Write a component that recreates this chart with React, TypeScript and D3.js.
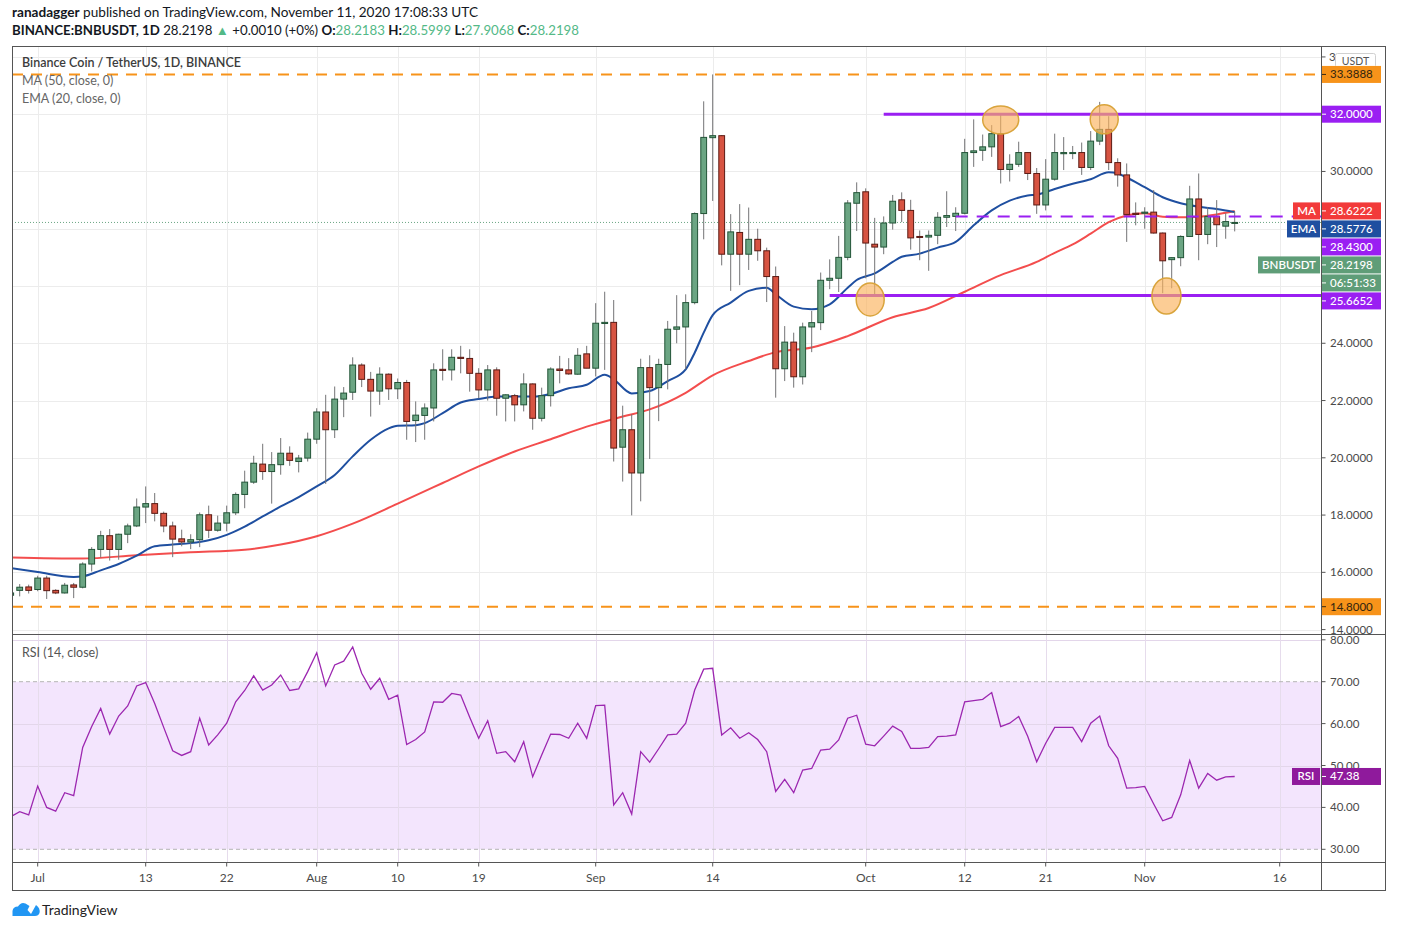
import * as d3 from "d3"

// ---- data ----
const firstDay = Date.UTC(2020, 5, 28)
const lastDay = Date.UTC(2020, 10, 12)
const days = d3.utcDay.range(new Date(firstDay), new Date(lastDay))

// [open, high, low, close] per day, Jun 28 .. Nov 11
const ohlc: [number, number, number, number][] = [
  [15.2, 15.3, 15.1, 15.28], [15.37, 15.59, 15.16, 15.48], [15.49, 15.57, 15.26, 15.37],
  // Jul
  [15.4, 15.88, 15.34, 15.8], [15.8, 15.88, 15.07, 15.36], [15.37, 15.41, 15.24, 15.28],
  [15.28, 15.63, 15.26, 15.55], [15.56, 15.63, 15.1, 15.48], [15.48, 16.35, 15.44, 16.29],
  [16.29, 16.88, 16.03, 16.8], [16.8, 17.45, 16.52, 17.28], [17.28, 17.51, 16.41, 16.8],
  [16.8, 17.35, 16.44, 17.33], [17.33, 17.7, 17.02, 17.62], [17.62, 18.58, 17.58, 18.28],
  [18.28, 19.0, 17.72, 18.4], [18.4, 18.77, 17.78, 18.06], [18.06, 18.12, 17.4, 17.62],
  [17.62, 17.77, 16.53, 17.16], [17.17, 17.49, 16.91, 17.06], [17.06, 17.33, 16.81, 17.14],
  [17.14, 18.09, 16.88, 18.01], [18.01, 18.33, 17.2, 17.47], [17.47, 17.98, 17.42, 17.72],
  [17.72, 18.33, 17.43, 18.08], [18.08, 18.79, 18.0, 18.72], [18.72, 19.55, 18.24, 19.15],
  [19.15, 20.07, 19.09, 19.81], [19.78, 20.49, 19.23, 19.52], [19.52, 20.2, 18.4, 19.76],
  [19.76, 20.69, 19.41, 20.16], [20.16, 20.4, 19.72, 19.91], [19.87, 20.1, 19.49, 19.99],
  [19.99, 20.88, 19.87, 20.65],
  // Aug
  [20.65, 21.73, 20.49, 21.6], [21.6, 22.2, 19.09, 20.98], [20.98, 22.49, 20.69, 22.05],
  [22.05, 22.47, 21.42, 22.26], [22.29, 23.51, 22.02, 23.24], [23.24, 23.3, 22.47, 22.74],
  [22.74, 23.0, 21.44, 22.33], [22.33, 23.16, 21.85, 22.92], [22.92, 22.95, 22.02, 22.41],
  [22.41, 22.77, 22.05, 22.63], [22.63, 22.72, 20.63, 21.27], [21.3, 21.97, 20.55, 21.49],
  [21.48, 21.9, 20.63, 21.74], [21.74, 23.3, 21.27, 23.07], [23.09, 23.79, 22.7, 23.05],
  [23.07, 23.79, 22.7, 23.51], [23.51, 23.91, 22.95, 23.47], [23.47, 23.79, 22.31, 22.95],
  [22.95, 23.13, 22.08, 22.37], [22.37, 23.24, 22.0, 23.07], [23.07, 23.16, 21.47, 22.08],
  [22.08, 22.22, 21.27, 22.2], [22.17, 22.23, 21.27, 21.85], [21.85, 22.95, 21.62, 22.58],
  [22.58, 22.6, 20.98, 21.38], [21.38, 22.45, 21.27, 22.17], [22.17, 23.16, 21.79, 23.1],
  [23.1, 23.56, 22.6, 23.05], [23.07, 23.48, 22.9, 22.93], [22.92, 23.83, 22.9, 23.58],
  [23.63, 23.91, 23.13, 23.13],
  // Sep
  [23.13, 25.4, 22.84, 24.7], [24.69, 25.8, 23.07, 24.73], [24.73, 25.51, 19.87, 20.34],
  [20.37, 21.82, 19.17, 20.98], [20.98, 21.52, 17.99, 19.47], [19.47, 23.46, 18.48, 23.15],
  [23.15, 23.58, 19.96, 22.45], [22.45, 23.46, 21.28, 23.26], [23.26, 24.78, 22.39, 24.49],
  [24.49, 25.68, 24.0, 24.57], [24.57, 25.71, 23.09, 25.42], [25.42, 28.57, 25.36, 28.53],
  [28.53, 32.45, 27.63, 31.19], [31.18, 33.3888, 28.97, 31.25], [31.25, 31.27, 26.72, 27.11],
  [27.11, 28.51, 25.83, 27.89], [27.87, 28.86, 26.03, 27.11], [27.11, 28.74, 26.56, 27.63],
  [27.63, 28.0, 26.88, 27.23], [27.23, 27.34, 25.44, 26.33], [26.33, 26.68, 22.1, 23.11],
  [23.11, 24.6, 22.68, 24.04], [24.04, 24.37, 22.45, 22.83], [22.83, 24.72, 22.56, 24.57],
  [24.57, 25.13, 23.69, 24.72], [24.72, 26.47, 24.46, 26.2], [26.2, 26.93, 25.89, 26.27],
  [26.27, 27.75, 25.79, 27.0], [27.0, 29.0, 26.9, 28.9], [28.89, 29.62, 27.92, 29.26],
  // Oct
  [29.29, 29.41, 26.27, 27.5], [27.46, 28.38, 25.69, 27.36], [27.36, 28.43, 27.11, 28.2],
  [28.2, 29.18, 27.97, 28.96], [29.01, 29.27, 28.23, 28.64], [28.64, 29.01, 27.27, 27.68],
  [27.73, 27.94, 26.9, 27.71], [27.71, 27.94, 26.53, 27.77], [27.77, 28.58, 27.46, 28.4],
  [28.4, 29.31, 28.06, 28.46], [28.43, 28.75, 27.92, 28.54], [28.54, 31.14, 28.5, 30.66],
  [30.66, 31.82, 30.16, 30.72], [30.74, 31.29, 30.37, 30.86], [30.86, 31.62, 30.51, 31.32],
  [31.32, 31.99, 29.58, 30.07], [30.07, 30.6, 29.65, 30.25], [30.25, 31.04, 30.16, 30.66],
  [30.66, 30.68, 29.7, 29.93], [29.93, 30.12, 28.52, 28.83], [28.83, 30.43, 28.64, 29.73],
  [29.73, 31.32, 29.68, 30.66], [30.62, 31.2, 30.05, 30.66], [30.64, 30.89, 30.43, 30.66],
  [30.66, 31.01, 29.88, 30.14], [30.14, 31.41, 30.05, 31.06], [31.06, 32.43, 30.92, 31.47],
  [31.47, 31.93, 30.05, 30.31], [30.31, 30.46, 29.47, 29.88], [29.88, 30.28, 27.54, 28.5],
  [28.54, 28.92, 28.12, 28.5],
  // Nov
  [28.54, 28.75, 28.0, 28.58], [28.58, 29.35, 27.83, 27.85], [27.85, 27.87, 25.75, 26.88],
  [26.92, 27.0, 25.92, 26.99], [26.99, 27.77, 26.69, 27.73], [27.73, 29.5, 27.71, 29.04],
  [29.04, 29.93, 26.9, 27.8], [27.8, 28.75, 27.46, 28.43], [28.43, 29.0, 27.36, 28.14],
  [28.09, 28.54, 27.65, 28.25], [28.2183, 28.5999, 27.9068, 28.2198],
]

// RSI (14, close), one value per day, Jun 28 .. Nov 11
const rsi = [
  37.8, 39.0, 38.2,
  45.1, 40.0, 39.1, 43.5, 42.8, 54.3, 59.3, 63.6, 57.5, 61.8, 64.2, 69.0, 69.8, 64.8, 59.1, 53.5,
  52.4, 53.3, 61.3, 54.9, 57.3, 60.1, 65.2, 67.9, 71.4, 68.0, 69.2, 71.6, 67.9, 68.3, 72.4,
  76.9, 69.0, 74.0, 74.9, 78.3, 72.0, 68.2, 70.8, 65.8, 66.8, 55.0, 56.2, 58.0, 65.2, 65.1, 67.2,
  66.8, 61.5, 56.5, 60.7, 52.9, 53.3, 50.9, 55.7, 47.3, 52.5, 57.5, 57.4, 56.5, 60.1, 56.5,
  64.3, 64.4, 40.6, 43.5, 38.4, 53.3, 50.8, 54.0, 57.3, 57.5, 60.1, 68.0, 73.0, 73.2, 57.3,
  59.0, 56.5, 57.8, 56.2, 53.3, 43.8, 46.7, 43.5, 48.9, 49.3, 53.7, 53.9, 56.1, 61.3, 62.0,
  55.1, 54.7, 57.0, 59.4, 58.1, 54.1, 54.1, 54.3, 56.9, 57.0, 57.3, 65.2, 65.5, 65.8, 67.4,
  59.3, 60.1, 61.7, 57.0, 50.9, 55.3, 59.1, 59.1, 59.1, 55.7, 60.1, 61.8, 54.7, 51.7, 44.6, 44.7,
  45.0, 40.8, 36.8, 37.6, 43.0, 51.2, 44.6, 48.1, 46.5, 47.3, 47.38,
]

// EMA (20)
const emaPoints: [string, number][] = [
  ["2020-06-28", 16.15], ["2020-07-01", 16.01], ["2020-07-05", 15.84], ["2020-07-06", 15.86],
  ["2020-07-08", 16.07], ["2020-07-10", 16.29], ["2020-07-12", 16.58], ["2020-07-14", 16.91],
  ["2020-07-16", 16.97], ["2020-07-18", 17.02], ["2020-07-20", 17.12], ["2020-07-22", 17.31],
  ["2020-07-24", 17.6], ["2020-07-26", 17.95], ["2020-07-28", 18.3], ["2020-07-30", 18.63],
  ["2020-08-01", 19.0], ["2020-08-03", 19.4], ["2020-08-05", 20.05], ["2020-08-07", 20.63],
  ["2020-08-09", 21.03], ["2020-08-10", 21.12], ["2020-08-12", 21.14], ["2020-08-13", 21.21],
  ["2020-08-15", 21.56], ["2020-08-17", 21.93], ["2020-08-19", 22.05], ["2020-08-21", 22.14],
  ["2020-08-23", 22.14], ["2020-08-25", 22.14], ["2020-08-27", 22.23], ["2020-08-29", 22.43],
  ["2020-08-31", 22.55], ["2020-09-02", 22.9], ["2020-09-03", 22.74], ["2020-09-05", 22.25],
  ["2020-09-07", 22.33], ["2020-09-09", 22.68], ["2020-09-11", 23.09], ["2020-09-12", 23.67],
  ["2020-09-13", 24.37], ["2020-09-14", 24.98], ["2020-09-16", 25.42], ["2020-09-18", 25.83],
  ["2020-09-20", 25.94], ["2020-09-21", 25.71], ["2020-09-23", 25.28], ["2020-09-25", 25.19],
  ["2020-09-27", 25.36], ["2020-09-29", 25.94], ["2020-09-30", 26.21], ["2020-10-02", 26.44],
  ["2020-10-04", 26.84], ["2020-10-05", 27.02], ["2020-10-07", 27.13], ["2020-10-09", 27.34],
  ["2020-10-11", 27.54], ["2020-10-13", 28.12], ["2020-10-15", 28.64], ["2020-10-17", 28.98],
  ["2020-10-19", 29.16], ["2020-10-20", 29.19], ["2020-10-22", 29.39], ["2020-10-24", 29.57],
  ["2020-10-26", 29.73], ["2020-10-28", 29.97], ["2020-10-29", 29.93], ["2020-10-30", 29.79],
  ["2020-11-01", 29.45], ["2020-11-03", 29.1], ["2020-11-05", 28.89], ["2020-11-07", 28.77],
  ["2020-11-09", 28.69], ["2020-11-11", 28.58],
]

// MA (50)
const maPoints: [string, number][] = [
  ["2020-06-28", 16.52], ["2020-07-06", 16.48], ["2020-07-12", 16.6], ["2020-07-18", 16.7],
  ["2020-07-24", 16.79], ["2020-07-28", 16.97], ["2020-08-01", 17.26], ["2020-08-05", 17.7],
  ["2020-08-10", 18.4], ["2020-08-15", 19.12], ["2020-08-19", 19.7], ["2020-08-23", 20.22],
  ["2020-08-27", 20.65], ["2020-08-31", 21.09], ["2020-09-04", 21.44], ["2020-09-07", 21.69],
  ["2020-09-11", 22.27], ["2020-09-14", 22.88], ["2020-09-18", 23.38], ["2020-09-21", 23.69],
  ["2020-09-25", 23.85], ["2020-09-29", 24.25], ["2020-10-04", 24.91], ["2020-10-08", 25.23],
  ["2020-10-12", 25.8], ["2020-10-16", 26.38], ["2020-10-20", 26.84], ["2020-10-22", 27.16],
  ["2020-10-24", 27.45], ["2020-10-26", 27.83], ["2020-10-28", 28.23], ["2020-10-30", 28.46],
  ["2020-11-01", 28.54], ["2020-11-03", 28.42], ["2020-11-05", 28.4], ["2020-11-07", 28.42],
  ["2020-11-09", 28.5], ["2020-11-11", 28.62],
]

// price labels that stay visible (the rest sit under the level badges)
const priceTicks = [14, 16, 18, 20, 22, 24, 26, 28, 30, 32, 34]
const visiblePriceLabels = [14, 16, 18, 20, 22, 24, 30]
const rsiTicks = [30, 40, 50, 60, 70, 80]
const timeTicks = [
  "2020-07-01", "2020-07-13", "2020-07-22", "2020-08-01", "2020-08-10", "2020-08-19",
  "2020-09-01", "2020-09-14", "2020-10-01", "2020-10-12", "2020-10-21", "2020-11-01", "2020-11-16",
]
const timeLabels = ["Jul", "13", "22", "Aug", "10", "19", "Sep", "14", "Oct", "12", "21", "Nov", "16"]

// support / resistance levels drawn by the author
const dashedLevels = [33.3888, 14.8]
const solidLevels: [number, string][] = [[32, "2020-10-03"], [25.6652, "2020-09-27"]]
const dashedPurple: [number, string] = [28.43, "2020-10-11"]
// highlighted touches: [date, price, rx, ry]
const touches: [string, number, number, number][] = [
  ["2020-10-16T00:00", 31.8, 18, 14],
  ["2020-10-27T12:00", 31.82, 14, 14.5],
  ["2020-10-01T12:00", 25.53, 14, 16.5],
  ["2020-11-03T10:00", 25.65, 14.5, 18],
]

// ---- styles ----
const FONT = "Lato, 'Open Sans', sans-serif"
const UP = "#6ba583", UP_EDGE = "#225437"
const DOWN = "#d75442", DOWN_EDGE = "#5b1a13"
const ORANGE = "#f7931a"
const PURPLE = "#9a1ff2"
const MA_RED = "#f23a3a"
const EMA_BLUE = "#1f4fa0"
const GREEN_BADGE = "#5f9d78"
const RSI_PURPLE = "#9c27b0"
const GRID = "#ececec"
const AXIS = "#555"
const TEXT = "#4a4a4a"

const L = 12, R = 1321.5, TOP = 46, SEP = 634, BOT = 862.5, OUTER_R = 1385.5, OUTER_B = 890.5

const parse = (s: string) => new Date(s.length > 10 ? s + "Z" : s + "T00:00Z")

export default function App() {
  const x = d3.scaleUtc()
    .domain([new Date(Date.UTC(2020, 5, 27)), new Date(Date.UTC(2020, 10, 16))])
    .range([1.7, 1279.7])
  const y = d3.scaleLinear().domain([14, 32]).range([629.6, 114.2])
  const yr = d3.scaleLinear().domain([30, 70]).range([849.3, 681.7])

  const maLine = d3.line<[string, number]>()
    .x(d => x(parse(d[0]))).y(d => y(d[1])).curve(d3.curveMonotoneX)
  const rsiLine = d3.line<number>()
    .x((_, i) => x(days[i])).y(d => yr(d))

  const bodyW = 5.8

  // stacked right-hand badges
  const stack: { v: number | null; txt: string; bg: string; label?: string; lw?: number }[] = [
    { v: 28.6222, txt: "28.6222", bg: MA_RED, label: "MA", lw: 27 },
    { v: 28.5776, txt: "28.5776", bg: EMA_BLUE, label: "EMA", lw: 33 },
    { v: 28.43, txt: "28.4300", bg: PURPLE },
    { v: 28.2198, txt: "28.2198", bg: GREEN_BADGE, label: "BNBUSDT", lw: 62 },
    { v: null, txt: "06:51:33", bg: GREEN_BADGE },
    { v: 25.6652, txt: "25.6652", bg: PURPLE },
  ]
  let prev = -Infinity
  const placed = stack.map(b => {
    const target = b.v != null ? y(b.v) : prev + 18
    const yy = Math.max(target, prev + 18)
    prev = yy
    return { ...b, y: yy }
  })

  const badge = (key: string, cy: number, txt: string, bg: string, fg = "#fff", label?: string, lw = 0, tick = true) => (
    <g key={key}>
      {label && (
        <g>
          <rect x={1320 - lw} y={cy - 8.5} width={lw} height={17} fill={bg} />
          <text x={1320 - lw / 2} y={cy + 4} textAnchor="middle" fontSize={11.5} fill={fg} fontWeight={600}>{label}</text>
        </g>
      )}
      <rect x={1322} y={cy - 8.5} width={59} height={17} fill={bg} />
      {tick && <line x1={1322} x2={1326} y1={cy} y2={cy} stroke={fg} />}
      <text x={1330} y={cy + 4} fontSize={11.5} fill={fg} fontWeight={500}>{txt}</text>
    </g>
  )

  return (
    <svg width={1404} height={926} style={{ position: "absolute", left: 0, top: 0, background: "#fff" }}
      fontFamily={FONT}>
      <defs>
        <clipPath id="price"><rect x={L} y={TOP} width={R - L} height={SEP - TOP} /></clipPath>
        <clipPath id="rsi"><rect x={L} y={SEP} width={R - L} height={BOT - SEP} /></clipPath>
      </defs>

      {/* header */}
      <text x={12} y={17} fontSize={13} fill="#131722" textLength={466} lengthAdjust="spacingAndGlyphs">
        <tspan fontWeight={700}>ranadagger</tspan>
        <tspan> published on TradingView.com, November 11, 2020 17:08:33 UTC</tspan>
      </text>
      <text x={12} y={35} fontSize={13} fill="#131722" textLength={567} lengthAdjust="spacingAndGlyphs">
        <tspan fontWeight={700}>BINANCE:BNBUSDT, 1D</tspan>
        <tspan> 28.2198 </tspan>
        <tspan fill="#53b987">▲</tspan>
        <tspan> +0.0010 (+0%) </tspan>
        <tspan fontWeight={700}>O:</tspan><tspan fill="#53b987">28.2183 </tspan>
        <tspan fontWeight={700}>H:</tspan><tspan fill="#53b987">28.5999 </tspan>
        <tspan fontWeight={700}>L:</tspan><tspan fill="#53b987">27.9068 </tspan>
        <tspan fontWeight={700}>C:</tspan><tspan fill="#53b987">28.2198</tspan>
      </text>

      {/* grid */}
      <g clipPath="url(#price)">
        {priceTicks.map(t => (
          <line key={t} x1={L} x2={R} y1={Math.round(y(t)) + 0.5} y2={Math.round(y(t)) + 0.5} stroke={GRID} />
        ))}
        {timeTicks.map(t => (
          <line key={t} x1={Math.round(x(parse(t))) + 0.5} x2={Math.round(x(parse(t))) + 0.5} y1={TOP} y2={SEP} stroke={GRID} />
        ))}
      </g>

      {/* RSI pane background */}
      <g clipPath="url(#rsi)">
        <rect x={L} y={yr(70)} width={R - L} height={yr(30) - yr(70)} fill="#f3e5fd" />
        {rsiTicks.filter(t => t !== 30 && t !== 70).map(t => (
          <line key={t} x1={L} x2={R} y1={Math.round(yr(t)) + 0.5} y2={Math.round(yr(t)) + 0.5} stroke="#e3d6ea" />
        ))}
        {timeTicks.map(t => (
          <line key={t} x1={Math.round(x(parse(t))) + 0.5} x2={Math.round(x(parse(t))) + 0.5} y1={SEP} y2={BOT} stroke="#e6dcec" />
        ))}
        {[70, 30].map(t => (
          <line key={t} x1={L} x2={R} y1={yr(t)} y2={yr(t)} stroke="#b5b5b5" strokeDasharray="4 3" />
        ))}
        <path d={rsiLine(rsi) ?? ""} fill="none" stroke={RSI_PURPLE} strokeWidth={1.3} />
      </g>

      {/* price pane */}
      <g clipPath="url(#price)">
        {/* current price dotted line */}
        <line x1={L} x2={R} y1={y(28.2198)} y2={y(28.2198)} stroke={UP} strokeDasharray="1 2" />

        {dashedLevels.map(v => (
          <line key={v} x1={L} x2={R} y1={y(v)} y2={y(v)} stroke={ORANGE} strokeWidth={2} strokeDasharray="11 8" />
        ))}

        <path d={maLine(maPoints) ?? ""} fill="none" stroke={MA_RED} strokeWidth={2} strokeOpacity={0.9} />
        <path d={maLine(emaPoints) ?? ""} fill="none" stroke={EMA_BLUE} strokeWidth={2} />

        {ohlc.map(([o, h, l, c], i) => {
          const cx = x(days[i])
          const up = c >= o
          const top = y(Math.max(o, c))
          const hgt = Math.max(1, Math.abs(y(o) - y(c)))
          return (
            <g key={i}>
              <line x1={cx} x2={cx} y1={y(h)} y2={y(l)} stroke="#737375" />
              <rect x={cx - bodyW / 2} y={top} width={bodyW} height={hgt}
                fill={up ? UP : DOWN} stroke={up ? UP_EDGE : DOWN_EDGE} strokeWidth={1} />
            </g>
          )
        })}

        {solidLevels.map(([v, d]) => (
          <line key={v} x1={x(parse(d))} x2={R} y1={y(v)} y2={y(v)} stroke={PURPLE} strokeWidth={3} />
        ))}
        <line x1={x(parse(dashedPurple[1]))} x2={R} y1={y(dashedPurple[0])} y2={y(dashedPurple[0])}
          stroke={PURPLE} strokeWidth={2} strokeDasharray="12 9" />

        {touches.map(([d, p, rx, ry]) => (
          <ellipse key={d} cx={x(parse(d))} cy={y(p)} rx={rx} ry={ry}
            fill="#fbb25c" fillOpacity={0.65} stroke="#d9a43c" strokeWidth={1.5} />
        ))}
      </g>

      {/* legends */}
      <text x={22} y={67} fontSize={12.5} fill="#3c3c3c" fontWeight={600}>Binance Coin / TetherUS, 1D, BINANCE</text>
      <text x={22} y={85} fontSize={12.5} fill="#666">MA (50, close, 0)</text>
      <text x={22} y={103} fontSize={12.5} fill="#666">EMA (20, close, 0)</text>
      <text x={22} y={657} fontSize={12.5} fill="#555">RSI (14, close)</text>

      {/* frame */}
      <rect x={L + 0.5} y={TOP + 0.5} width={OUTER_R - L - 0.5} height={OUTER_B - TOP - 0.5} fill="none" stroke={AXIS} />
      <line x1={R} x2={R} y1={TOP} y2={OUTER_B} stroke={AXIS} />
      <line x1={L} x2={OUTER_R} y1={SEP + 0.5} y2={SEP + 0.5} stroke={AXIS} />
      <line x1={L} x2={OUTER_R} y1={BOT} y2={BOT} stroke={AXIS} />

      {/* price axis */}
      {priceTicks.map(t => (
        <line key={t} x1={R} x2={R + 4} y1={y(t)} y2={y(t)} stroke={AXIS} />
      ))}
      {visiblePriceLabels.map(t => (
        <text key={t} x={1330} y={y(t) + 4} fontSize={11.5} fill={TEXT}>{t.toFixed(4)}</text>
      ))}
      {/* only the leading digit of 34.0000 peeks out from behind the currency box */}
      <text x={1329} y={y(34) + 4} fontSize={11.5} fill={TEXT}>3</text>
      {/* rsi axis */}
      {rsiTicks.map(t => (
        <g key={t}>
          <line x1={R} x2={R + 4} y1={yr(t)} y2={yr(t)} stroke={AXIS} />
          <text x={1330} y={yr(t) + 4} fontSize={11.5} fill={TEXT}>{t.toFixed(2)}</text>
        </g>
      ))}
      {/* time axis */}
      {timeTicks.map((t, i) => (
        <g key={t}>
          <line x1={x(parse(t))} x2={x(parse(t))} y1={BOT} y2={BOT + 4} stroke={AXIS} />
          <text x={x(parse(t))} y={882} fontSize={12} fill={TEXT} textAnchor="middle">{timeLabels[i]}</text>
        </g>
      ))}

      {/* USDT box */}
      <rect x={1335.5} y={53.5} width={40} height={14} rx={2} fill="#fff" stroke="#d0d0d0" />
      <text x={1355.5} y={64.5} fontSize={10.5} fill="#555" textAnchor="middle">USDT</text>

      {/* badges */}
      {badge("top", y(33.3888), "33.3888", ORANGE, "#3a2a10")}
      {badge("res", y(32), "32.0000", PURPLE)}
      {placed.map((b, i) => badge("s" + i, b.y, b.txt, b.bg, "#fff", b.label, b.lw ?? 0))}
      {badge("low", y(14.8), "14.8000", ORANGE, "#3a2a10")}
      {badge("rsi", yr(47.38), "47.38", "#8f1a9c", "#fff", "RSI", 28)}

      {/* logo */}
      <path d="M12.5 916 L12.5 911 Q13 906.5 18 906.5 Q21 901.5 25.5 903.5 L29.5 906 L27.5 910 L31 914 L36 905 Q40.5 908 39.5 913 Q38.5 916 35 916 Z"
        fill="#2196f3" />
      <text x={42} y={915} fontSize={14} fill="#222">TradingView</text>
    </svg>
  )
}
